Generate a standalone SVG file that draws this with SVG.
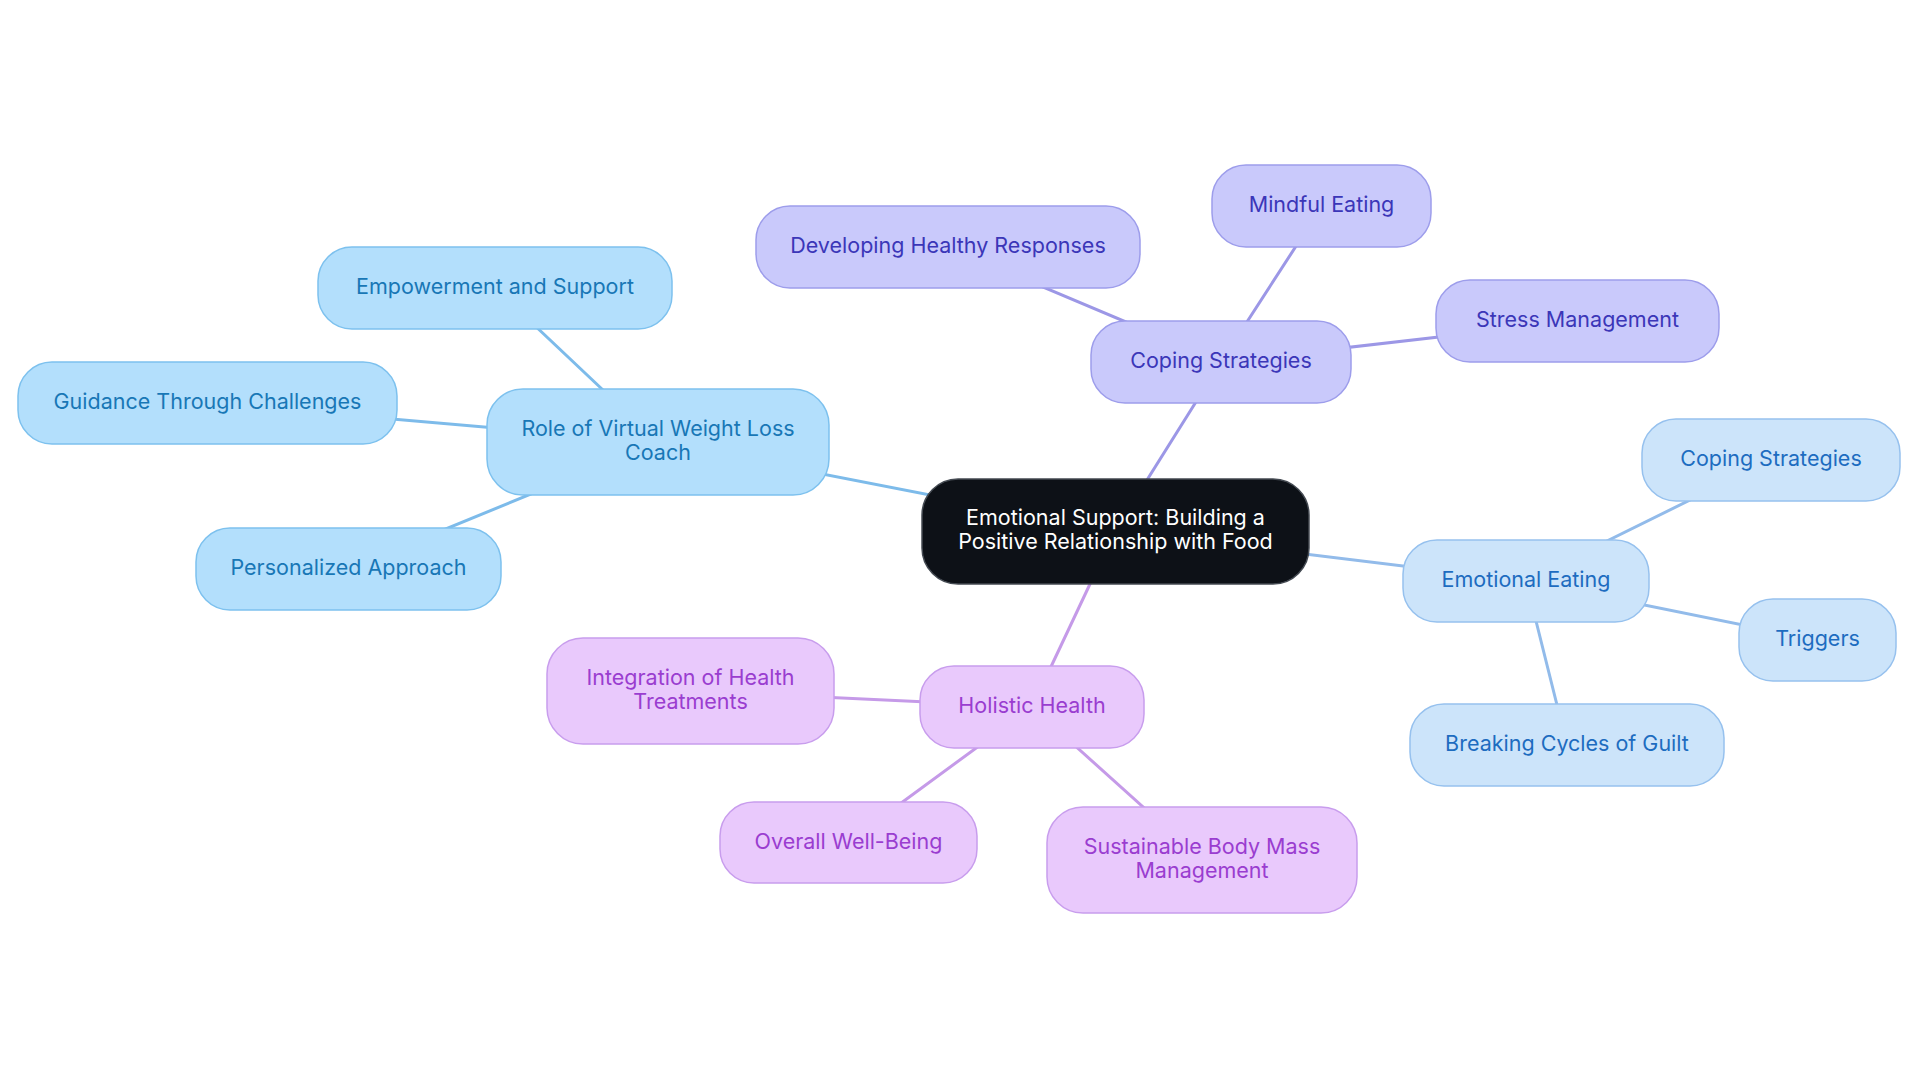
<svg xmlns="http://www.w3.org/2000/svg" width="1920" height="1083" viewBox="0 0 1920 1083">
<style>
text{font-family:Inter,"Open Sans","Liberation Sans",sans-serif;font-size:21.5px;text-anchor:middle}
.b rect{fill:#b3dffc;stroke:#7dc1ee;stroke-width:1.5}
.b text{fill:#1877b6}
.p rect{fill:#c9c9fb;stroke:#9d9deb;stroke-width:1.5}
.p text{fill:#3b36b8}
.e rect{fill:#cce4fa;stroke:#96c1ee;stroke-width:1.5}
.e text{fill:#1d6cc0}
.h rect{fill:#e9c9fc;stroke:#c89ded;stroke-width:1.5}
.h text{fill:#9a3dd0}
.c rect{fill:#0d1117;stroke:#444a52;stroke-width:1.5}
.c text{fill:#ffffff}
.lb{stroke:#7dbbea;stroke-width:3}
.lp{stroke:#9c97e6;stroke-width:3}
.le{stroke:#92bbea;stroke-width:3}
.lh{stroke:#c59ae8;stroke-width:3}
</style>
<rect width="1920" height="1083" fill="#ffffff"/>
<g id="connectors" fill="none" stroke-linecap="round">
<line class="lb" x1="1115" y1="531" x2="658" y2="442"/>
<line class="lb" x1="658" y1="442" x2="495" y2="288"/>
<line class="lb" x1="658" y1="442" x2="208" y2="403"/>
<line class="lb" x1="658" y1="442" x2="348" y2="569"/>
<line class="lp" x1="1115" y1="531" x2="1221" y2="362"/>
<line class="lp" x1="1221" y1="362" x2="948" y2="247"/>
<line class="lp" x1="1221" y1="362" x2="1322" y2="206"/>
<line class="lp" x1="1221" y1="362" x2="1578" y2="321"/>
<line class="le" x1="1115" y1="531" x2="1526" y2="581"/>
<line class="le" x1="1526" y1="581" x2="1771" y2="460"/>
<line class="le" x1="1526" y1="581" x2="1817" y2="640"/>
<line class="le" x1="1526" y1="581" x2="1567" y2="745"/>
<line class="lh" x1="1115" y1="531" x2="1032" y2="707"/>
<line class="lh" x1="1032" y1="707" x2="690" y2="691"/>
<line class="lh" x1="1032" y1="707" x2="848" y2="842"/>
<line class="lh" x1="1032" y1="707" x2="1202" y2="860"/>
</g>
<g id="n-center" class="c"><rect x="922" y="479" width="387" height="105" rx="36"/><text x="1115.5" y="524.5">Emotional Support: Building a</text><text x="1115.5" y="549">Positive Relationship with Food</text></g>
<g id="n-role" class="b"><rect x="487" y="389" width="342" height="106" rx="36"/><text x="658" y="435.5">Role of Virtual Weight Loss</text><text x="658" y="460">Coach</text></g>
<g id="n-empowerment" class="b"><rect x="318" y="247" width="354" height="82" rx="34"/><text x="495" y="294">Empowerment and Support</text></g>
<g id="n-guidance" class="b"><rect x="18" y="362" width="379" height="82" rx="34"/><text x="207.5" y="409">Guidance Through Challenges</text></g>
<g id="n-personalized" class="b"><rect x="196" y="528" width="305" height="82" rx="34"/><text x="348.5" y="575">Personalized Approach</text></g>
<g id="n-coping" class="p"><rect x="1091" y="321" width="260" height="82" rx="34"/><text x="1221" y="368">Coping Strategies</text></g>
<g id="n-developing" class="p"><rect x="756" y="206" width="384" height="82" rx="34"/><text x="948" y="253">Developing Healthy Responses</text></g>
<g id="n-mindful" class="p"><rect x="1212" y="165" width="219" height="82" rx="34"/><text x="1321.5" y="212">Mindful Eating</text></g>
<g id="n-stress" class="p"><rect x="1436" y="280" width="283" height="82" rx="34"/><text x="1577.5" y="327">Stress Management</text></g>
<g id="n-emotional-eating" class="e"><rect x="1403" y="540" width="246" height="82" rx="34"/><text x="1526" y="587">Emotional Eating</text></g>
<g id="n-coping-right" class="e"><rect x="1642" y="419" width="258" height="82" rx="34"/><text x="1771" y="466">Coping Strategies</text></g>
<g id="n-triggers" class="e"><rect x="1739" y="599" width="157" height="82" rx="34"/><text x="1817.5" y="646">Triggers</text></g>
<g id="n-breaking" class="e"><rect x="1410" y="704" width="314" height="82" rx="34"/><text x="1567" y="751">Breaking Cycles of Guilt</text></g>
<g id="n-holistic" class="h"><rect x="920" y="666" width="224" height="82" rx="34"/><text x="1032" y="713">Holistic Health</text></g>
<g id="n-integration" class="h"><rect x="547" y="638" width="287" height="106" rx="36"/><text x="690.5" y="684.5">Integration of Health</text><text x="690.5" y="709">Treatments</text></g>
<g id="n-overall" class="h"><rect x="720" y="802" width="257" height="81" rx="34"/><text x="848.5" y="848.5">Overall Well-Being</text></g>
<g id="n-sustainable" class="h"><rect x="1047" y="807" width="310" height="106" rx="36"/><text x="1202" y="853.5">Sustainable Body Mass</text><text x="1202" y="878">Management</text></g>
</svg>
